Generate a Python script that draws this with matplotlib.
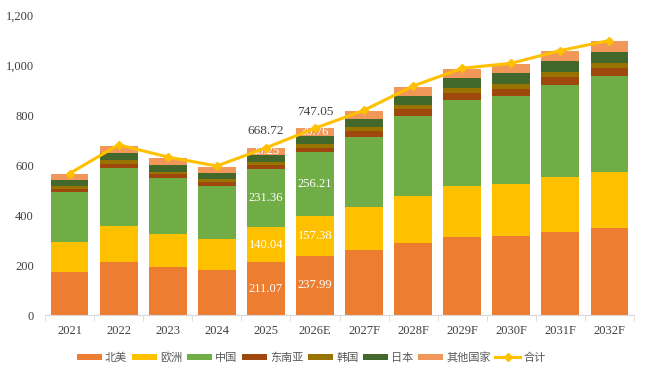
import numpy as np
import matplotlib
matplotlib.use('Agg')
import matplotlib.pyplot as plt
from matplotlib.ticker import FuncFormatter, FixedLocator

plt.rcParams['font.family'] = ['Liberation Serif', 'Noto Sans CJK SC', 'DejaVu Sans']

years = ['2021', '2022', '2023', '2024', '2025', '2026E',
         '2027F', '2028F', '2029F', '2030F', '2031F', '2032F']
north_america = [173, 212, 192, 180, 211.07, 237.99, 260, 289, 312, 316, 332, 348]
europe = [120, 144, 132, 124, 140.04, 157.38, 173, 188, 205, 208, 221, 225]
china = [200, 233, 225, 213, 231.36, 256.21, 279, 319, 343, 353, 367, 384]
se_asia = [11, 14, 14, 16, 17, 18, 25, 28, 27, 26, 33, 32]
korea = [12, 17, 9, 11, 13, 13, 16, 17, 20, 21, 19, 20]
japan = [24, 29, 28, 25, 28, 33.71, 31, 36, 40, 43, 44, 43]
others = [24, 27, 28, 23, 28.25, 30.76, 32, 36, 36, 37, 40, 44]
total = [566, 681, 632, 596, 668.72, 747.05, 819, 916, 987, 1007, 1058, 1098]

names = ['北美', '欧洲', '中国', '东南亚', '韩国', '日本', '其他国家']
colors = ['#ED7D31', '#FFC000', '#70AD47', '#9E480E', '#997300', '#43682B', '#F1975A']
series = [north_america, europe, china, se_asia, korea, japan, others]

# which bars get value labels
labeled = [4, 5]

fig = plt.figure(figsize=(6.5, 3.78), dpi=100)
ax = fig.add_axes([45 / 650, 63 / 378, 589 / 650, 300 / 378])

x = np.arange(len(years))
bottom = np.zeros(len(years))
for vals, name, c in zip(series, names, colors):
    vals = np.array(vals, dtype=float)
    ax.bar(x, vals, 0.77, bottom=bottom, color=c, label=name, zorder=2)
    if name in ('北美', '欧洲', '中国', '其他国家'):
        for i in labeled:
            ax.text(x[i], bottom[i] + vals[i] / 2, '%.2f' % vals[i], ha='center', va='center',
                    color='white', fontsize=9, zorder=3)
    bottom += vals

ax.plot(x, total, color='#FFC000', lw=2.2, marker='D', markersize=4.5, label='合计', zorder=4)
for i in labeled:
    ax.text(x[i], total[i] + 66, '%.2f' % total[i], ha='center', va='center',
            color='#404040', fontsize=9.5, zorder=5)

ax.set_xlim(-0.5, len(years) - 0.5)
ax.set_ylim(0, 1200)
ax.set_yticks(np.arange(0, 1201, 200))
ax.yaxis.set_major_formatter(FuncFormatter(lambda v, p: '{:,.0f}'.format(v)))
ax.set_xticks(x)
ax.set_xticklabels(years)
ax.xaxis.set_minor_locator(FixedLocator(np.arange(-0.5, len(years), 1)))
ax.tick_params(axis='x', which='major', length=0, pad=7, labelsize=9, labelcolor='#404040')
ax.tick_params(axis='x', which='minor', length=4, color='#D9D9D9')
ax.tick_params(axis='y', length=0, pad=8, labelsize=9, labelcolor='#404040')

for s in ['top', 'right', 'left']:
    ax.spines[s].set_visible(False)
ax.spines['bottom'].set_color('#D9D9D9')

handles, labels = ax.get_legend_handles_labels()
order = [labels.index(n) for n in names + ['合计']]
ax.legend([handles[k] for k in order], [labels[k] for k in order],
          loc='upper center', bbox_to_anchor=(0.452, -0.09), ncol=8, frameon=False,
          fontsize=8, handlelength=2.25, handleheight=0.45, columnspacing=0.4,
          handletextpad=0.3, labelcolor='#595959')

fig.savefig('out.png', dpi=100)
